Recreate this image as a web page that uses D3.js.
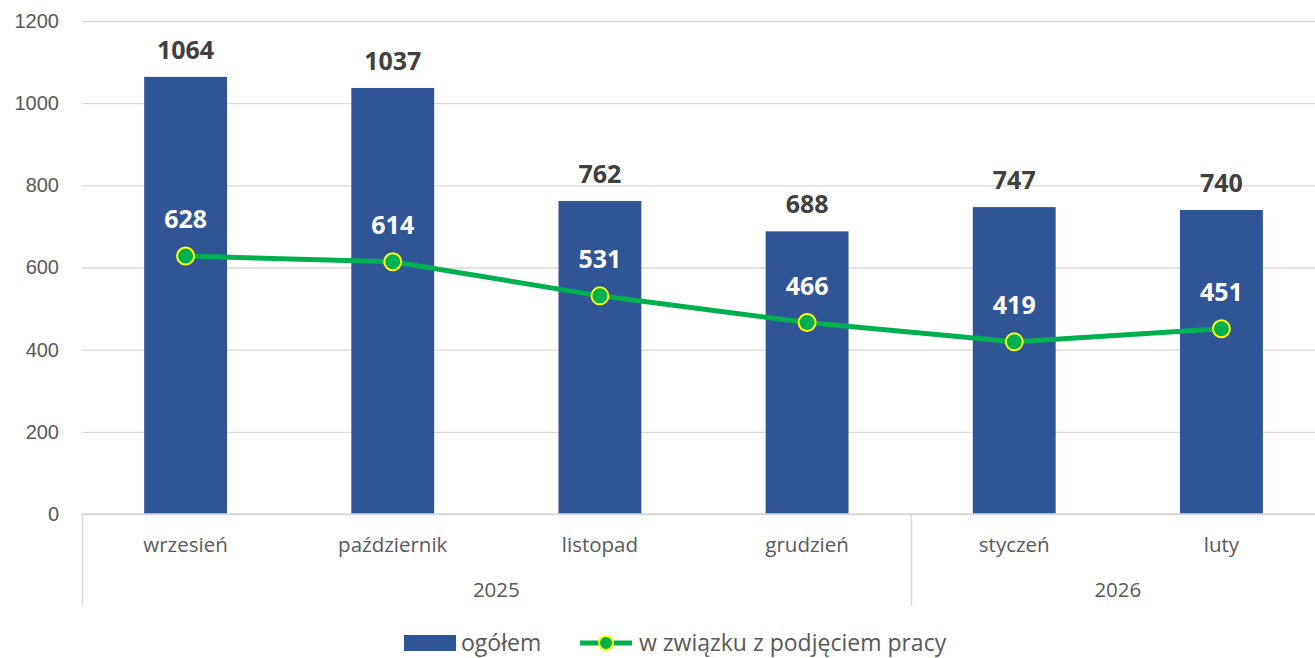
<!DOCTYPE html>
<html>
<head>
<meta charset="utf-8">
<script src="https://cdn.jsdelivr.net/npm/d3@7"></script>
<style>
  html, body { margin: 0; padding: 0; background: #fff; overflow: hidden; }
  svg { display: block; font-family: "Open Sans", sans-serif; }
</style>
</head>
<body>
<div id="wrapper"></div>
<script>
const months = ["wrzesień", "październik", "listopad", "grudzień", "styczeń", "luty"];
const monthYears = ["2025", "2025", "2025", "2025", "2026", "2026"];
const totalValues = [1064, 1037, 762, 688, 747, 740];
const workValues = [628, 614, 531, 466, 419, 451];
const yTicks = [0, 200, 400, 600, 800, 1000, 1200];
const seriesNames = ["ogółem", "w związku z podjęciem pracy"];

function drawChart() {
  // dimensions (plot area runs a little past the right edge, as in the source)
  const dimensions = {
    width: 1315,
    height: 658,
    margin: { top: 21, right: -10, bottom: 144, left: 82 },
  };
  dimensions.boundedWidth = dimensions.width - dimensions.margin.left - dimensions.margin.right;
  dimensions.boundedHeight = dimensions.height - dimensions.margin.top - dimensions.margin.bottom;

  const barColor = "#2F5597";
  const lineColor = "#00B050";
  const textColor = "#595959";
  const gridColor = "#D9D9D9";

  const svg = d3.select("#wrapper").append("svg")
    .attr("width", dimensions.width)
    .attr("height", dimensions.height);
  const bounds = svg.append("g")
    .attr("transform", `translate(${dimensions.margin.left},${dimensions.margin.top})`);

  // scales
  const xScale = d3.scaleBand()
    .domain(months)
    .range([0, dimensions.boundedWidth])
    .paddingInner(0.6)
    .paddingOuter(0.3);
  const yScale = d3.scaleLinear()
    .domain([0, 1200])
    .range([dimensions.boundedHeight, 0]);
  const step = xScale.step();
  const xCenter = m => xScale(m) + xScale.bandwidth() / 2;

  // gridlines
  const yAxis = bounds.append("g")
    .call(d3.axisLeft(yScale).tickValues(yTicks).tickSize(-dimensions.boundedWidth).tickFormat(d3.format("d")));
  yAxis.select(".domain").remove();
  yAxis.selectAll(".tick line").attr("stroke", gridColor).attr("stroke-width", 1.3);
  yAxis.selectAll(".tick text")
    .attr("x", -23)
    .attr("fill", textColor)
    .style("font-size", "20px")
    .style("text-anchor", "end");

  // bars
  bounds.append("g").selectAll("rect")
    .data(totalValues)
    .join("rect")
    .attr("x", (d, i) => xScale(months[i]))
    .attr("y", d => yScale(d))
    .attr("width", xScale.bandwidth())
    .attr("height", d => dimensions.boundedHeight - yScale(d))
    .attr("fill", barColor);

  // x axis (hierarchical)
  const xAxis = bounds.append("g")
    .attr("transform", `translate(0,${dimensions.boundedHeight})`);
  xAxis.append("line")
    .attr("x1", 0).attr("x2", dimensions.boundedWidth)
    .attr("y1", 0).attr("y2", 0)
    .attr("stroke", gridColor).attr("stroke-width", 1.5);
  xAxis.selectAll(".month")
    .data(months)
    .join("text")
    .attr("class", "month")
    .attr("x", d => xCenter(d))
    .attr("y", 38)
    .attr("fill", textColor)
    .style("font-size", "20.5px")
    .style("text-anchor", "middle")
    .text(d => d);

  const yearGroups = d3.groups(months.map((m, i) => ({ m, y: monthYears[i] })), d => d.y);
  const yearSpans = yearGroups.map(([year, items]) => ({
    year,
    x0: xScale(items[0].m) - step * xScale.paddingInner() / 2,
    x1: xScale(items[items.length - 1].m) + xScale.bandwidth() + step * xScale.paddingInner() / 2,
  }));
  yearSpans[0].x0 = 0;
  yearSpans[yearSpans.length - 1].x1 = dimensions.boundedWidth;
  xAxis.selectAll(".sep")
    .data(yearSpans)
    .join("line")
    .attr("class", "sep")
    .attr("x1", d => Math.round(d.x0) + 0.5).attr("x2", d => Math.round(d.x0) + 0.5)
    .attr("y1", 0).attr("y2", 92)
    .attr("stroke", gridColor).attr("stroke-width", 1.5);
  xAxis.selectAll(".year")
    .data(yearSpans)
    .join("text")
    .attr("class", "year")
    .attr("x", d => (d.x0 + d.x1) / 2)
    .attr("y", 83)
    .attr("fill", textColor)
    .style("font-size", "20.5px")
    .style("text-anchor", "middle")
    .text(d => d.year);

  // bar labels
  bounds.append("g").selectAll("text")
    .data(totalValues)
    .join("text")
    .attr("x", (d, i) => xCenter(months[i]))
    .attr("y", d => yScale(d) - 18)
    .attr("fill", "#404040")
    .style("font-size", "25px")
    .style("font-weight", "bold")
    .style("text-anchor", "middle")
    .text(d => d);

  // line
  const lineGenerator = d3.line()
    .x((d, i) => xCenter(months[i]))
    .y(d => yScale(d));
  bounds.append("path")
    .datum(workValues)
    .attr("d", lineGenerator)
    .attr("fill", "none")
    .attr("stroke", lineColor)
    .attr("stroke-width", 5)
    .attr("stroke-linejoin", "round");
  bounds.append("g").selectAll("circle")
    .data(workValues)
    .join("circle")
    .attr("cx", (d, i) => xCenter(months[i]))
    .attr("cy", d => yScale(d))
    .attr("r", 8.5)
    .attr("fill", lineColor)
    .attr("stroke", "#FFFF00")
    .attr("stroke-width", 2);
  bounds.append("g").selectAll("text")
    .data(workValues)
    .join("text")
    .attr("x", (d, i) => xCenter(months[i]))
    .attr("y", d => yScale(d) - 28)
    .attr("fill", "#ffffff")
    .style("font-size", "25px")
    .style("font-weight", "bold")
    .style("text-anchor", "middle")
    .text(d => d);

  // legend
  const legend = svg.append("g").attr("transform", "translate(0,643)");
  legend.append("rect")
    .attr("x", 404).attr("y", -8)
    .attr("width", 52).attr("height", 16)
    .attr("fill", barColor);
  legend.append("text")
    .attr("x", 461).attr("y", 0).attr("dy", "0.35em")
    .attr("fill", textColor)
    .style("font-size", "23px")
    .text(seriesNames[0]);
  legend.append("line")
    .attr("x1", 580).attr("x2", 632)
    .attr("y1", 0).attr("y2", 0)
    .attr("stroke", lineColor).attr("stroke-width", 5);
  legend.append("circle")
    .attr("cx", 606).attr("cy", 0).attr("r", 7)
    .attr("fill", lineColor)
    .attr("stroke", "#FFFF00").attr("stroke-width", 2);
  legend.append("text")
    .attr("x", 639).attr("y", 0).attr("dy", "0.35em")
    .attr("fill", textColor)
    .style("font-size", "23px")
    .text(seriesNames[1]);
}
drawChart();
</script>
</body>
</html>
